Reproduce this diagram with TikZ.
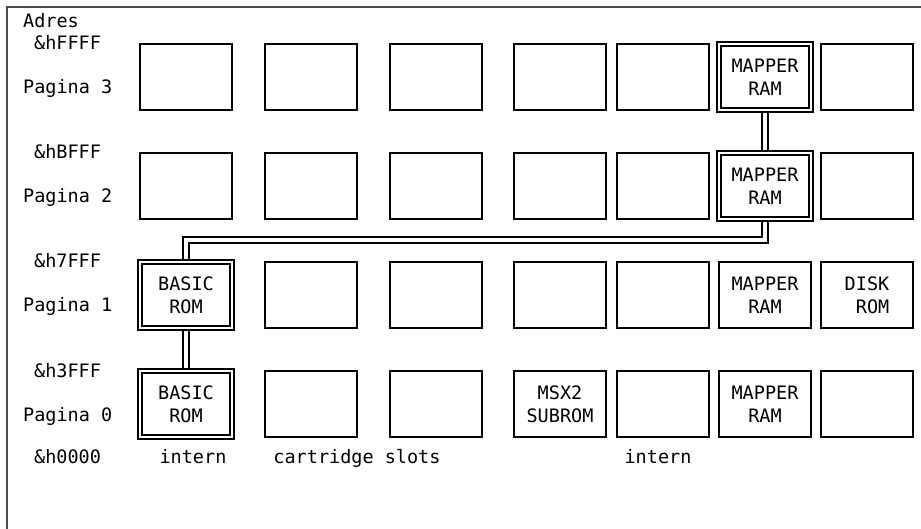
\documentclass[tikz,border=0pt]{standalone}
\usepackage{fontspec}
\setmonofont{DejaVu Sans Mono}
\usetikzlibrary{calc,backgrounds}

\begin{document}
\begin{tikzpicture}[x=1pt,y=-1pt]
	\tikzset{
		slot/.style={draw, line width=2pt, fill=white, minimum width=92pt, minimum height=66pt, inner sep=0pt, align=center, font=\ttfamily\fontsize{18.5}{23}\selectfont},
		linked/.style={slot, line width=2pt, double, double distance=2.8pt},
		link/.style={line width=2pt, double, double distance=4pt},
		txt/.style={font=\ttfamily\fontsize{18.5}{23}\selectfont, inner sep=0pt},
	}
	\useasboundingbox (0,0) rectangle (921,529);

	% frame
	\draw[line width=1.2pt, black!70] (921,7) -- (7,7) -- (7,529);

	\def\RowH{109}

	% slot positions
	\foreach \c/\x in {1/186,2/311,3/436,4/560,5/663,6/765,7/867}
		\foreach \r in {0,...,3}
			\coordinate (p\c\r) at (\x, {77 + (3-\r)*\RowH});

	% empty slots
	\foreach \c/\r in {1/3,2/3,3/3,4/3,5/3,7/3,1/2,2/2,3/2,4/2,5/2,7/2,2/1,3/1,4/1,5/1,2/0,3/0,5/0,7/0}
		\node[slot] (s\c\r) at (p\c\r) {};

	\node[linked] (mapper3) at (p63) {MAPPER\\RAM};
	\node[linked] (mapper2) at (p62) {MAPPER\\RAM};
	\node[slot] (mapper1) at (p61) {MAPPER\\RAM};
	\node[slot] (mapper0) at (p60) {MAPPER\\RAM};
	\node[slot] (disk1) at (p71) {DISK\\\hphantom{D}ROM};
	\node[linked] (basic1) at (p11) {BASIC\\ROM};
	\node[linked] (basic0) at (p10) {BASIC\\ROM};
	\node[slot] (subrom0) at (p40) {MSX2\\SUBROM};

	% links between pages
	\begin{scope}[on background layer]
		\draw[link] (mapper3.center) -- (mapper2.center);
		\draw[link] (mapper2.center) |- ($(mapper2.south)!.5!(basic1.north)$) -| (basic1.center);
		\draw[link] (basic1.center) -- (basic0.center);
	\end{scope}

	% addresses and pages
	\node[txt, anchor=base west] (adres) at (23,28) {Adres};
	\foreach \r/\a in {3/FFFF,2/BFFF,1/7FFF,0/3FFF}{
		\node[txt, anchor=base west] (addr\r) at (34, {50 + (3-\r)*\RowH}) {\&h\a};
		\node[txt, anchor=base west] (page\r) at (23, {94 + (3-\r)*\RowH}) {Pagina \r};
	}
	\node[txt, anchor=base west] (addrlow) at (34,463) {\&h0000};

	% slot groups
	\node[txt, anchor=base] (intern1) at (193,463) {intern};
	\node[txt, anchor=base] (cart) at (357,463) {cartridge slots};
	\node[txt, anchor=base] (intern2) at (658,463) {intern};
\end{tikzpicture}
\end{document}
